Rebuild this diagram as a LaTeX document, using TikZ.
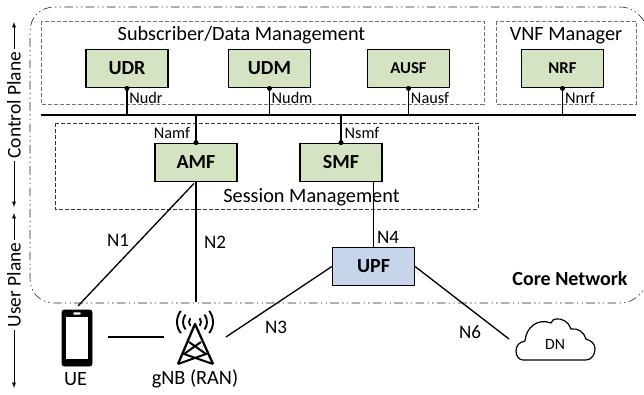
\documentclass[tikz,border=0pt]{standalone}
\usepackage{fontspec}
\setmainfont{Carlito}
\definecolor{nfgreen}{HTML}{D4E4C3}
\definecolor{upfblue}{HTML}{C6D4EC}
\tikzset{
  nf/.style={draw,line width=0.9pt,fill=nfgreen,minimum width=61.5pt,minimum height=29pt,inner sep=0pt,font=\fontsize{15}{15}\selectfont\bfseries},
  smallnf/.style={nf,font=\fontsize{12.5}{13}\selectfont\bfseries},
  sap/.style={font=\fontsize{12.2}{12}\selectfont,inner sep=0pt},
  reflabel/.style={font=\fontsize{14.3}{15}\selectfont,inner sep=0pt},
  titlelabel/.style={font=\fontsize{15.2}{15}\selectfont,inner sep=0pt},
  group/.style={line width=0.5pt,dashed,dash pattern=on 3pt off 1.5pt},
  plane/.style={line width=0.4pt,latex-latex},
  planelabel/.style={fill=white,rotate=90,inner sep=2pt,font=\fontsize{14.6}{15}\selectfont},
  dot/.style={circle,fill=black,inner sep=0pt,minimum size=3.8pt},
  iface/.style={line width=1pt}
}
\begin{document}
\begin{tikzpicture}[x=0.75pt,y=-0.75pt]
  \useasboundingbox (0,0) rectangle (644,394);
  % core network outline
  \draw [black!85,line width=0.45pt,dash pattern=on 6.5pt off 2.5pt on 1pt off 2.5pt on 1pt off 2.5pt] (644,21) .. controls (638,12) and (630,7) .. (620,7) -- (55,7) .. controls (40,7) and (30,17) .. (30,32) -- (30,278) .. controls (30,293) and (40,303) .. (55,303) -- (620,303) .. controls (630,303) and (638,298) .. (644,289);
  % groups
  \draw [group,black!55] (41,21) rectangle (484,104);
  \draw [group,black!55] (496,21) rectangle (636,104);
  \draw [group,black!80] (55,123) rectangle (478,209);
  \node [titlelabel] (subscriber) at (241.5,35) {Subscriber/Data Management};
  \node [titlelabel] (vnf) at (566,36) {VNF Manager};
  \node [titlelabel] (session) at (311.5,197) {Session Management};
  % functions
  \node [nf] (udr) at (127,68.5) {UDR};
  \node [nf] (udm) at (269.5,68.5) {UDM};
  \node [smallnf] (ausf) at (408.5,68.5) {AUSF};
  \node [smallnf] (nrf) at (562.5,68.5) {NRF};
  \node [nf] (amf) at (196,162.5) {AMF};
  \node [nf] (smf) at (341,162.5) {SMF};
  \node [nf,fill=upfblue] (upf) at (373.5,266.5) {UPF};
  % service bus
  \coordinate (busl) at (41,115);
  \coordinate (busr) at (636,115);
  \draw [line width=1.1pt] (busl) -- (busr);
  \foreach \nfname in {udr,udm,ausf,nrf} {
    \draw [line width=0.8pt] (\nfname.south) -- (\nfname.south |- busl);
    \node [dot] at (\nfname.south) {};
  }
  \foreach \nfname in {amf,smf} {
    \draw [line width=1.1pt] (\nfname.north) -- (\nfname.north |- busl);
    \node [dot] at (\nfname.north) {};
  }
  \node [sap] (nudr) at (146,98) {Nudr};
  \node [sap] (nudm) at (292,98) {Nudm};
  \node [sap] (nausf) at (430,98) {Nausf};
  \node [sap] (nnrf) at (580,98) {Nnrf};
  \node [sap] (namf) at (172,133) {Namf};
  \node [sap] (nsmf) at (362,133) {Nsmf};
  % ue
  \node [draw,fill=black,rounded corners=1.5pt,minimum width=22.5pt,minimum height=42pt,inner sep=0pt] (ue) at (77,338) {};
  \node [fill=white,minimum width=17pt,minimum height=31.5pt,inner sep=0pt] (uescreen) at (77,338) {};
  \node [fill=white,rounded corners=0.5pt,minimum width=5.5pt,minimum height=1.6pt,inner sep=0pt] (uespeaker) at (77,313.5) {};
  \node [titlelabel] (uelabel) at (75.5,379) {UE};
  % gnb
  \coordinate (gnb) at (195,324);
  \draw [line width=1.7pt,line join=round] (178,364) -- (gnb) -- (213,364);
  \draw [line width=1.5pt] (189,342) -- (206,354) -- (178,364) (201,342) -- (184,354) -- (213,364);
  \foreach \arcr in {6,12,18} {
    \draw [line width=1.4pt] ([shift={(142:\arcr)}]195,322) arc (142:218:\arcr);
    \draw [line width=1.4pt] ([shift={(-38:\arcr)}]195,322) arc (-38:38:\arcr);
  }
  \node [titlelabel] (gnblabel) at (195,379) {gNB (RAN)};
  % dn
  \coordinate (dnin) at (509,339);
  \draw [line width=0.9pt,line join=round] (523,360) -- (586,360) .. controls (592,360) and (595,354) .. (595,349) .. controls (595,344) and (592,341) .. (586,339) .. controls (584,332) and (578,328) .. (571,329) .. controls (569,322) and (562,318) .. (556,319) .. controls (554,319) and (552,320) .. (551,323) .. controls (538,318) and (526,327) .. (525,341) .. controls (519,342) and (516,346) .. (516,351) .. controls (516,356) and (519,360) .. (523,360);
  \node [sap,font=\fontsize{11.8}{12}\selectfont] (dn) at (555,344) {DN};
  % reference points
  \coordinate (uein) at (78,306);
  \coordinate (gnbin) at (196,302);
  \coordinate (uer) at (108,337);
  \coordinate (gnbl) at (164,337);
  \coordinate (gnbr) at (226,337);
  \draw [iface] (amf.south) ++(-2,1) -- (uein);
  \draw [iface] (amf.south) -- (gnbin);
  \draw [iface] (smf.south -| upf.north) -- (upf.north);
  \draw [iface] (gnbr) -- (upf.west);
  \draw [iface] (upf.east) -- (dnin);
  \draw [iface] (uer) -- (gnbl);
  \node [reflabel] (n1) at (118,240) {N1};
  \node [reflabel] (n2) at (215,242) {N2};
  \node [reflabel] (n3) at (276,327) {N3};
  \node [reflabel] (n4) at (388,237) {N4};
  \node [reflabel] (n6) at (470,332) {N6};
  \node [reflabel,font=\fontsize{15}{15}\selectfont\bfseries] (core) at (570,279) {Core Network};
  % planes
  \coordinate (cptop) at (14,22);
  \coordinate (cpbot) at (14,207);
  \coordinate (uptop) at (14,213);
  \coordinate (upbot) at (14,388);
  \draw [plane] (cptop) -- (cpbot) node [planelabel,pos=0.45] (control) {Control Plane};
  \draw [plane] (uptop) -- (upbot) node [planelabel,pos=0.41] (user) {User Plane};
\end{tikzpicture}
\end{document}
